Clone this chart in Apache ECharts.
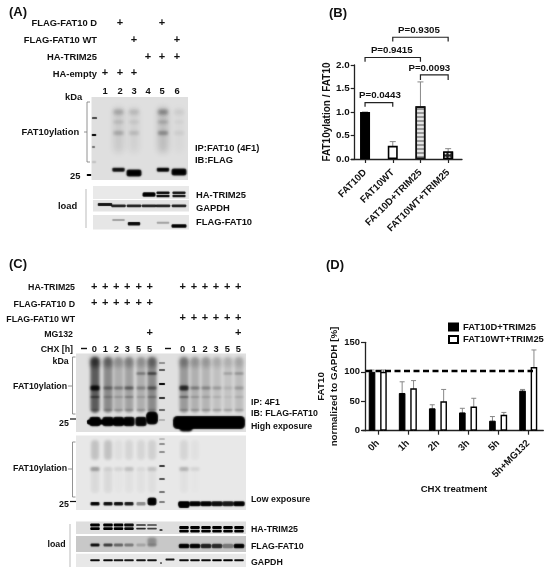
<!DOCTYPE html>
<html>
<head>
<meta charset="utf-8">
<style>html,body{margin:0;padding:0;background:#fff}#chart{width:550px;height:572px}</style>
<script src="https://cdn.jsdelivr.net/npm/echarts@6/dist/echarts.min.js"></script>
</head>
<body>
<div id="chart"></div>
<script>
// panel B
const bCategories = ['FAT10D', 'FAT10WT', 'FAT10D+TRIM25', 'FAT10WT+TRIM25']
const bValues = [1.0, 0.28, 1.12, 0.16]
const bErrorTops = [1.0, 0.37, 1.64, 0.22]
const bBrackets = [
    ['P=0.0443', 0, 1, 1.2, 1.11],
    ['P=0.0093', 2, 3.1, 1.79, 1.68],
    ['P=0.9415', 0, 2, 2.16, 2.07],
    ['P=0.9305', 1, 3, 2.59, 2.5]
]
// panel D
const dCategories = ['0h', '1h', '2h', '3h', '5h', '5h+MG132']
const dFat10D = [100, 64, 38, 31, 17, 68]
const dFat10DErr = [103, 83, 44, 38, 24, 70]
const dFat10WT = [100, 72, 50, 41, 27, 108]
const dFat10WTErr = [103, 85, 70, 55, 31, 137]
const dRefLine = 102
// blot band strength per lane
const aMainBand = [0, 0.95, 1, 0, 1, 1]
const aSmear = [0, 0.2, 0.13, 0, 0.32, 0.06]
const aTrim = [0, 0, 0, 1, 0.95, 0.9]
const aGapdh = [0.9, 0.85, 0.85, 0.85, 0.85, 0.85]
const aFlag = [0, 0.3, 0.95, 0, 0.3, 1]
const cHighSmear = [0.85, 0.55, 0.32, 0.4, 0.32, 0.55, 0.45, 0.3, 0.28, 0.2, 0.18, 0.22]
const cHighSpot = [0.95, 0.4, 0.35, 0.5, 0.3, 0.5, 0.8, 0.35, 0.3, 0.22, 0.1, 0.22]
const cHighBand = [1, 0.98, 0.98, 0.98, 0.98, 1, 1, 1, 1, 1, 1, 1]
const cLowSmear = [0.16, 0.16, 0.04, 0.08, 0.08, 0.1, 0.08, 0.03, 0, 0, 0, 0]
const cLowSpot = [0.3, 0.06, 0.08, 0.16, 0.04, 0.14, 0.22, 0.08, 0, 0, 0, 0]
const cLowBand = [1, 0.95, 0.95, 0.9, 0.4, 1, 1, 1, 1, 0.95, 0.9, 1]
const cTrim = [1, 1, 1, 0.95, 0.8, 0.7, 1, 1, 1, 1, 1, 1]
const cFlag = [0.95, 0.7, 0.5, 0.4, 0.18, 0.12, 1, 1, 0.85, 0.8, 0.4, 1]
const cGapdh = [0.95, 0.95, 0.9, 0.9, 0.9, 0.9, 0.95, 0.95, 0.95, 1, 1, 0.95]

const font = '"Liberation Sans", Arial, sans-serif'
const aLanes = [105, 120, 134, 148, 162, 177]
const aBlotLanes = [105, 118.5, 134, 149, 163, 179]
const cLanes = [94.3, 105.3, 116.3, 127.3, 138.7, 149.7, 182.7, 194, 205, 216, 227.3, 238.3]
const cBlotLanes = [95, 108, 118.5, 129, 141, 152, 184, 195, 206, 217, 228, 239]
const OFF = 3000

const graphics = []

function label(text, x, y, size, align) {
    graphics.push({
        type: 'text', x: x, y: y, silent: true, z: 10,
        style: { text: text, fill: '#111', font: 'bold ' + size + 'px ' + font, textAlign: align || 'left', textVerticalAlign: 'middle' }
    })
}
function rect(x, y, w, h, fill) {
    graphics.push({
        type: 'rect', silent: true,
        shape: { x: x, y: y, width: w, height: h },
        style: { fill: fill }
    })
}
// soft blot mark: only the blurred shadow of an off-page rectangle lands on the panel
function blob(cx, cy, w, h, alpha, blur) {
    if (alpha <= 0) return
    graphics.push({
        type: 'rect', silent: true,
        shape: { x: cx - w / 2 - OFF, y: cy - h / 2, width: w, height: h, r: h / 3 },
        style: { fill: '#000', shadowColor: 'rgba(0,0,0,' + Math.min(alpha, 1) + ')', shadowBlur: blur === undefined ? 1.5 : blur, shadowOffsetX: OFF }
    })
}
function line(x1, y1, x2, y2, color, width) {
    graphics.push({
        type: 'line', silent: true, z: 10,
        shape: { x1: x1, y1: y1, x2: x2, y2: y2 },
        style: { stroke: color || '#333', lineWidth: width || 1 }
    })
}
function plusRow(lanes, y) {
    lanes.forEach(x => label('+', x, y, 11, 'center'))
}
function bracket(x, y1, y2) {
    graphics.push({
        type: 'polyline', silent: true,
        shape: { points: [[x + 3, y1], [x, y1], [x, y2], [x + 3, y2]] },
        style: { stroke: '#777', lineWidth: 0.8, fill: 'none' }
    })
}

// panel A blots
function drawA() {
    const size = 9.4
    label('(A)', 9, 12.5, 13)
    label('FLAG-FAT10 D', 97, 23.5, size, 'right')
    label('FLAG-FAT10 WT', 97, 40, size, 'right')
    label('HA-TRIM25', 97, 57.5, size, 'right')
    label('HA-empty', 97, 74, size, 'right')
    plusRow([aLanes[1], aLanes[4]], 22.5)
    plusRow([aLanes[2], aLanes[5]], 39.5)
    plusRow([aLanes[3], aLanes[4], aLanes[5]], 56.5)
    plusRow([aLanes[0], aLanes[1], aLanes[2]], 72.5)
    aLanes.forEach((x, i) => label(String(i + 1), x, 91, size, 'center'))
    label('kDa', 65, 97, size)

    rect(91.5, 97, 96.5, 83, '#dfdfdf')
    aBlotLanes.forEach((x, i) => {
        const s = aSmear[i]
        blob(x, 130, 10, 46, s * 0.5, 6)
        blob(x, 112, 10, 5, s * 1.1, 3.5)
        blob(x, 122, 10, 3, s * 0.6, 3)
        blob(x, 133, 10, 4, s, 3)
        const big = i === 2 || i === 5
        const y = i === 2 ? 173 : i === 5 ? 172 : 169.7
        blob(x, y, big ? 15 : 12.5, big ? 7 : 4, aMainBand[i], 1.6)
    })
    // marker lane
    blob(94.5, 118, 5, 1.6, 0.9, 0.8)
    blob(94, 135, 4.5, 2, 1, 0.8)
    blob(93.5, 147, 3, 2, 0.5, 1)
    blob(94, 162, 4, 1.5, 0.2, 1.5)
    blob(89, 175, 4.5, 1.8, 1, 0.6)

    rect(93, 186, 96, 13, '#e9e9e9')
    rect(93, 200, 96, 11.5, '#e4e4e4')
    rect(93, 215, 96, 14.5, '#e6e6e6')
    aBlotLanes.forEach((x, i) => {
        if (i === 3) {
            blob(x, 194.5, 13, 4.5, aTrim[i], 1)
        } else {
            blob(x, 192.7, 13, 2.6, aTrim[i], 0.8)
            blob(x, 196, 13, 2.6, aTrim[i], 0.8)
        }
        blob(x, i === 0 ? 204.5 : 205.8, 14.5, 2.8, aGapdh[i], 0.8)
    })
    const flagY = [0, 220, 223.7, 0, 222.7, 226]
    aBlotLanes.forEach((x, i) => {
        blob(x, flagY[i], i === 5 ? 15 : 12.5, i === 1 || i === 4 ? 2 : 3.6, aFlag[i], 1)
    })

    bracket(87, 102, 162)
    line(84, 132, 87, 132, '#777', 0.8)
    label('FAT10ylation', 21.5, 132, size)
    label('25', 70, 176.5, size)
    label('IP:FAT10 (4F1)', 195, 148.5, size)
    label('IB:FLAG', 195, 160, size)
    line(86, 189, 86, 228, '#bbb', 1)
    label('load', 58, 206, size)
    label('HA-TRIM25', 196, 195, size)
    label('GAPDH', 196, 208, size)
    label('FLAG-FAT10', 196, 222, size)
}

// panel C blots
function drawC() {
    const size = 8.8
    label('(C)', 9, 264, 13)
    label('HA-TRIM25', 75, 288, size, 'right')
    label('FLAG-FAT10 D', 75, 304.5, size, 'right')
    label('FLAG-FAT10 WT', 75, 319.5, size, 'right')
    label('MG132', 73, 334.5, size, 'right')
    label('CHX [h]', 73, 349.5, size, 'right')
    plusRow(cLanes, 286.5)
    plusRow(cLanes.slice(0, 6), 302.5)
    plusRow(cLanes.slice(6), 317.5)
    plusRow([cLanes[5], cLanes[11]], 333)
    line(81, 348.5, 87, 348.5, '#111', 1.4)
    line(165, 348.5, 171, 348.5, '#111', 1.4)
    const hours = [0, 1, 2, 3, 5, 5, 0, 1, 2, 3, 5, 5]
    hours.forEach((h, i) => label(String(h), cLanes[i], 349.5, size + 0.5, 'center'))

    // high exposure
    rect(76, 353.5, 170, 78.5, '#e0e0e0')
    cBlotLanes.forEach((x, i) => {
        const s = cHighSmear[i], d = cHighSpot[i]
        blob(x, 385, 9, 56, s * 0.7, 3)
        blob(x, 362, 9, 10, s * 0.6, 4)
        if (i === 4 || i === 5 || i === 10 || i === 11) blob(x, 373.5, 9, 2.5, s * 1.1, 2)
        blob(x, 388, 9, i === 0 || i === 6 ? 5 : 3, d, 2.2)
        blob(x, 397, 9, 2, d * 0.5, 2)
        blob(x, 410, 9, 1.8, 0.2, 2)
    })
    cBlotLanes.slice(0, 6).forEach((x, i) => {
        blob(x, i === 5 ? 418 : 421.5, i === 5 ? 12 : 11.5, i === 5 ? 13 : 9.5, cHighBand[i], 1.5)
    })
    blob(109, 422, 44, 5, 1, 1)
    blob(209, 422.5, 72, 13, 1, 1.5)
    blob(186, 425, 14, 13, 1, 2)
    ;[[363, 0.35], [370, 0.6], [384, 1], [398, 0.8], [410, 0.55], [420, 0.2]].forEach(m => blob(162, m[0], 6, 1.8, m[1], 0.8))

    // low exposure
    rect(76, 435.5, 170, 74.5, '#e8e8e8')
    cBlotLanes.forEach((x, i) => {
        const s = cLowSmear[i]
        blob(x, 450, 8, 20, s, 3)
        blob(x, 480, 8, 26, s * 0.4, 3)
        blob(x, 469, 9, 4, cLowSpot[i], 2.5)
    })
    cBlotLanes.forEach((x, i) => {
        const w = i > 5 ? 11.5 : 9
        blob(x, i === 5 ? 501.5 : 503.7, w, i === 5 ? 8 : i > 5 ? 5 : 3.6, cLowBand[i], 1.2)
    })
    blob(184, 505, 11, 6, 1, 1.2)
    ;[[439, 0.25], [444, 0.5], [452, 0.5], [466, 1], [479, 0.85], [492, 0.65], [502, 0.6]].forEach(m => blob(162, m[0], 5.5, 1.7, m[1], 0.8))

    bracket(72.5, 357, 414)
    line(68, 386, 72, 386, '#777', 0.8)
    bracket(72.5, 442, 497)
    line(68, 469, 72, 469, '#777', 0.8)
    label('FAT10ylation', 13, 387, size)
    label('FAT10ylation', 13, 469, size)
    label('kDa', 52.5, 362, size)
    label('25', 59, 423.5, size)
    line(70, 419, 76, 419, '#111', 1.2)
    label('25', 59, 505, size)
    line(70, 501.5, 76, 501.5, '#111', 1.2)
    label('IP: 4F1', 251, 403, size)
    label('IB: FLAG-FAT10', 251, 414, size)
    label('High exposure', 251, 427, size)
    label('Low exposure', 251, 500, size)

    rect(76, 521.5, 170, 12.5, '#dedede')
    rect(76, 536, 170, 16, '#c8c8c8')
    rect(76, 553.7, 170, 13.3, '#e8e8e8')
    cBlotLanes.forEach((x, i) => {
        const dy = i > 5 ? 2.5 : 0
        const h = i === 4 || i === 5 ? 1.6 : 2.8
        blob(x, 525 + dy, 9.5, h, cTrim[i], 0.6)
        blob(x, 528.6 + dy, 9.5, h, cTrim[i], 0.6)
        blob(x, i > 5 ? 546 : 545, i > 5 ? 10.5 : 9, i > 5 ? 4.5 : 3, cFlag[i], 1.2)
        blob(x, 560.2, 9.5, 1.9, cGapdh[i], 0.6)
    })
    blob(152, 542, 9, 9, 0.3, 2.5)
    blob(161, 530, 3, 1.5, 0.9, 0.5)
    blob(170, 559.5, 9, 1.8, 0.9, 0.5)
    blob(161, 563, 1.6, 1.6, 0.9, 0.5)
    line(70, 524, 70, 567, '#bbb', 1)
    label('load', 47.5, 544.5, size)
    label('HA-TRIM25', 251, 530, size)
    label('FLAG-FAT10', 251, 547, size)
    label('GAPDH', 251, 563, size)
}

drawA()
drawC()
label('(B)', 329, 13, 13)
label('(D)', 326, 265, 13)
label('CHX treatment', 454, 489.5, 9.6, 'center')

function errorSeries(tops, xAxisIndex, yAxisIndex, shift, halfCap) {
    return {
        type: 'custom',
        xAxisIndex: xAxisIndex,
        yAxisIndex: yAxisIndex,
        silent: true,
        z: 1,
        data: tops.map((top, i) => [i, top]),
        renderItem: (params, api) => {
            const top = api.coord([api.value(0), api.value(1)])
            const base = api.coord([api.value(0), 0])
            const x = top[0] + shift
            return {
                type: 'group',
                children: [
                    { type: 'line', shape: { x1: x, y1: top[1], x2: x, y2: base[1] }, style: { stroke: '#888', lineWidth: 1 } },
                    { type: 'line', shape: { x1: x - halfCap, y1: top[1], x2: x + halfCap, y2: top[1] }, style: { stroke: '#888', lineWidth: 1 } }
                ]
            }
        }
    }
}

const axisText = { color: '#111', fontWeight: 'bold', fontFamily: font }
const axisStroke = { show: true, lineStyle: { color: '#222', width: 1.3 } }
const tickStyle = { show: true, length: 4, lineStyle: { color: '#222', width: 1.2 } }
const bLabelShift = [1, -5, -1, -1.5]

const chart = echarts.init(document.getElementById('chart'), null, { renderer: 'canvas' })
chart.setOption({
    animation: false,
    backgroundColor: '#fff',
    textStyle: { fontFamily: font },
    graphic: graphics,
    grid: [
        { left: 351.2, width: 110.8, top: 65, height: 94 },
        { left: 362.7, width: 180.6, top: 342.3, height: 88.4 }
    ],
    legend: {
        left: 443,
        top: 317.5,
        orient: 'vertical',
        itemWidth: 9,
        itemHeight: 7,
        itemGap: 3.5,
        icon: 'rect',
        data: ['FAT10D+TRIM25', 'FAT10WT+TRIM25'],
        textStyle: { color: '#111', fontWeight: 'bold', fontSize: 9.4, fontFamily: font }
    },
    xAxis: [
        {
            gridIndex: 0, type: 'category', data: bCategories,
            axisLine: axisStroke,
            axisTick: Object.assign({ alignWithLabel: true }, tickStyle),
            axisLabel: Object.assign({ rotate: 45, fontSize: 9.7, margin: 12, interval: 0 }, axisText)
        },
        {
            gridIndex: 1, type: 'category', data: dCategories,
            axisLine: axisStroke,
            axisTick: Object.assign({ alignWithLabel: true }, tickStyle),
            axisLabel: Object.assign({ rotate: 45, fontSize: 9.7, margin: 11, interval: 0 }, axisText)
        }
    ],
    yAxis: [
        {
            gridIndex: 0, type: 'value', min: 0, max: 2, interval: 0.5, offset: -3.5,
            name: 'FAT10ylation / FAT10', nameLocation: 'middle', nameGap: 19,
            nameTextStyle: Object.assign({ fontSize: 10 }, axisText),
            axisLine: axisStroke,
            axisTick: tickStyle,
            splitLine: { show: false },
            axisLabel: Object.assign({ fontSize: 9.8, margin: 5, formatter: v => v.toFixed(1) }, axisText)
        },
        {
            gridIndex: 1, type: 'value', min: 0, max: 150, interval: 50, offset: -2.3,
            name: 'FAT10\nnormalized to GAPDH [%]', nameLocation: 'middle', nameGap: 12.5,
            nameTextStyle: Object.assign({ fontSize: 9.8, lineHeight: 13 }, axisText),
            axisLine: axisStroke,
            axisTick: tickStyle,
            splitLine: { show: false },
            axisLabel: Object.assign({ fontSize: 9.4, margin: 5 }, axisText)
        }
    ],
    series: [
        errorSeries(bErrorTops, 0, 0, 0, 3),
        {
            type: 'bar', xAxisIndex: 0, yAxisIndex: 0, barWidth: 10, z: 2,
            data: bValues.map((v, i) => ({
                value: v,
                itemStyle: [
                    { color: '#000', borderColor: '#000', borderWidth: 1.3 },
                    { color: '#fff', borderColor: '#000', borderWidth: 1.6 },
                    { color: '#e4e4e4', borderColor: '#111', borderWidth: 1.6, decal: { symbol: 'rect', dashArrayX: [1, 0], dashArrayY: [1.4, 1.4], color: '#999', backgroundColor: '#e4e4e4', rotation: 0 } },
                    { color: '#222', borderColor: '#000', borderWidth: 1.3, decal: { symbol: 'circle', symbolSize: 0.7, dashArrayX: [3, 1], dashArrayY: [3, 1], color: '#ddd', backgroundColor: '#222', rotation: 0 } }
                ][i]
            }))
        },
        {
            type: 'custom', xAxisIndex: 0, yAxisIndex: 0, silent: true, z: 3,
            data: bBrackets.map(b => [b[1], b[2], b[3], b[4]]),
            renderItem: (params, api) => {
                const a = api.coord([api.value(0), api.value(2)])
                const b = api.coord([api.value(1), api.value(2)])
                const drop = api.coord([api.value(0), api.value(3)])[1]
                return {
                    type: 'group',
                    children: [
                        { type: 'polyline', shape: { points: [[a[0], drop], [a[0], a[1]], [b[0], b[1]], [b[0], drop]] }, style: { stroke: '#222', lineWidth: 1.2, fill: 'none' } },
                        { type: 'text', x: (a[0] + b[0]) / 2 + bLabelShift[params.dataIndex], y: a[1] - 7, style: { text: bBrackets[params.dataIndex][0], fill: '#111', font: 'bold 9.7px ' + font, textAlign: 'center', textVerticalAlign: 'middle' } }
                    ]
                }
            }
        },
        errorSeries(dFat10DErr, 1, 1, -5.7, 2.5),
        errorSeries(dFat10WTErr, 1, 1, 5.7, 2.5),
        {
            name: 'FAT10D+TRIM25', type: 'bar', xAxisIndex: 1, yAxisIndex: 1, barWidth: 6.6, barGap: '73%', z: 2,
            data: dFat10D,
            itemStyle: { color: '#000', borderColor: '#000', borderWidth: 1 },
            markLine: {
                silent: true, symbol: 'none', z: 5,
                label: { show: false },
                lineStyle: { color: '#000', type: [6, 3.5], width: 2.4 },
                data: [[{ x: 366, yAxis: dRefLine }, { x: 533, yAxis: dRefLine }]]
            }
        },
        {
            name: 'FAT10WT+TRIM25', type: 'bar', xAxisIndex: 1, yAxisIndex: 1, barWidth: 6.6, z: 2,
            data: dFat10WT,
            itemStyle: { color: '#fff', borderColor: '#000', borderWidth: 1.4 }
        }
    ]
})
</script>
</body>
</html>
